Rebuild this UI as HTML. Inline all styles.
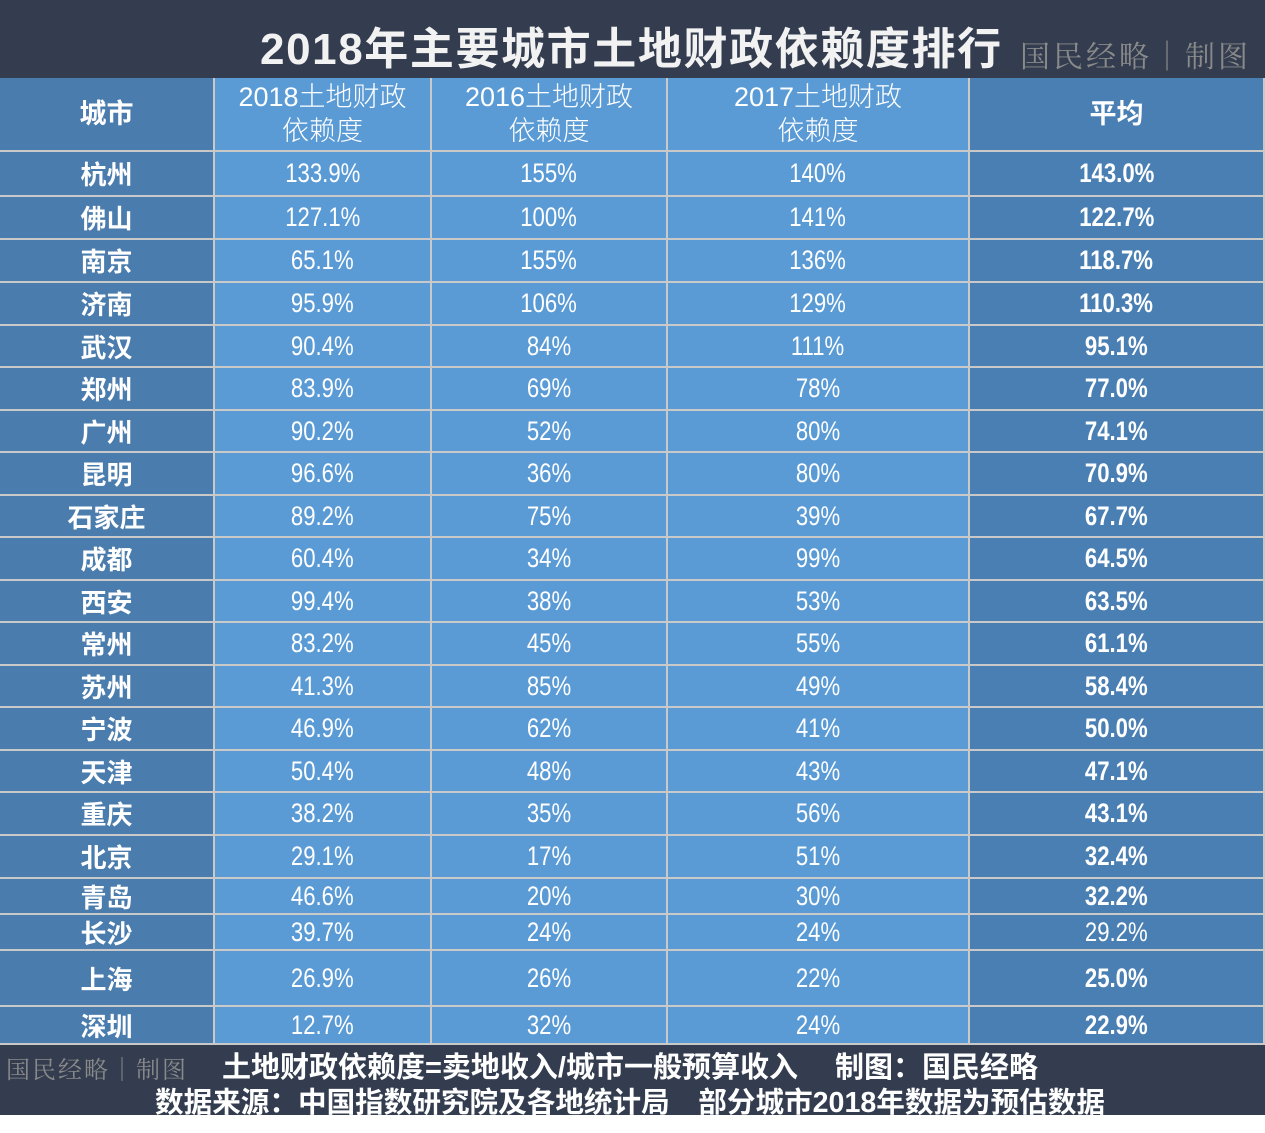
<!DOCTYPE html>
<html><head><meta charset="utf-8">
<style>
body{margin:0;width:1265px;height:1133px;background:#fff;position:relative;overflow:hidden;font-family:"Liberation Sans","Noto Sans CJK SC",sans-serif}
.bar{position:absolute;left:0;width:1265px;background:#333d4f}
.cell{position:absolute;box-sizing:border-box;display:flex;align-items:center;justify-content:center;color:#fff;border-right:2px solid #c9c9c9;border-bottom:2px solid #c9c9c9;font-size:27px}
.cell span{display:inline-block;transform:scaleX(0.82)}
.c0{background:#4a7cae;font-weight:bold;font-size:26px}
.c0 span{transform:none}
.cm{background:#5a9bd6;font-weight:300}
.c4{background:#4a7fb4;font-weight:bold}
.hd{line-height:34px;text-align:center;font-size:27px}
.hd span{transform:none}
</style></head><body>
<div class="bar" style="top:0;height:78px"></div>
<div style="position:absolute;left:260px;top:13px;font-size:44px;color:#f2f2f2;font-weight:bold;letter-spacing:1.6px">2018年主要城市土地财政依赖度排行</div>
<div style="position:absolute;left:1020px;top:32px;font-size:30px;color:#8a8a8a;font-family:'Noto Serif CJK SC',serif;letter-spacing:3px">国民经略｜制图</div>
<div id="tbl"></div>
<div class="bar" style="top:1045px;height:70px"></div>
<div style="position:absolute;left:6px;top:1050px;font-size:24px;color:#8a8a8a;font-family:'Noto Serif CJK SC',serif;letter-spacing:2px">国民经略｜制图</div>
<div style="position:absolute;left:222px;top:1044px;font-size:29px;color:#fff;font-weight:bold">土地财政依赖度=卖地收入/城市一般预算收入　 制图：国民经略</div>
<div style="position:absolute;left:155px;top:1080px;font-size:28.6px;color:#fff;font-weight:bold">数据来源：中国指数研究院及各地统计局　部分城市2018年数据为预估数据</div>
<script>
const cities=["杭州","佛山","南京","济南","武汉","郑州","广州","昆明","石家庄","成都","西安","常州","苏州","宁波","天津","重庆","北京","青岛","长沙","上海","深圳"];
const v2018=["133.9%","127.1%","65.1%","95.9%","90.4%","83.9%","90.2%","96.6%","89.2%","60.4%","99.4%","83.2%","41.3%","46.9%","50.4%","38.2%","29.1%","46.6%","39.7%","26.9%","12.7%"];
const v2016=["155%","100%","155%","106%","84%","69%","52%","36%","75%","34%","38%","45%","85%","62%","48%","35%","17%","20%","24%","26%","32%"];
const v2017=["140%","141%","136%","129%","111%","78%","80%","80%","39%","99%","53%","55%","49%","41%","43%","56%","51%","30%","24%","22%","24%"];
const avg=["143.0%","122.7%","118.7%","110.3%","95.1%","77.0%","74.1%","70.9%","67.7%","64.5%","63.5%","61.1%","58.4%","50.0%","47.1%","43.1%","32.4%","32.2%","29.2%","25.0%","22.9%"];
const headers=["城市","2018土地财政<br>依赖度","2016土地财政<br>依赖度","2017土地财政<br>依赖度","平均"];
const colX=[0,215,432,668,970,1265];
const rowY=[78,152,197,240,283,326,368,411,453,496,538,581,623,666,708,751,793,836,879,915,951,1007,1045];
const tbl=document.getElementById('tbl');
function mk(x0,x1,y0,y1,cls,html){const d=document.createElement('div');d.className='cell '+cls;d.style.left=x0+'px';d.style.top=y0+'px';d.style.width=(x1-x0)+'px';d.style.height=(y1-y0)+'px';d.innerHTML='<span>'+html+'</span>';tbl.appendChild(d);return d;}
headers.forEach((h,i)=>{
  const c=mk(colX[i],colX[i+1],rowY[0],rowY[1],(i==0?'c0':i==4?'c4':'cm')+' hd',h);
  
  
});
cities.forEach((name,r)=>{
  const vals=[name,v2018[r],v2016[r],v2017[r],avg[r]];
  vals.forEach((v,i)=>{
    const c=mk(colX[i],colX[i+1],rowY[r+1],rowY[r+2],i==0?'c0':i==4?'c4':'cm',v);
    if(i==4&&r==18)c.style.fontWeight='300';
    
    
  });
});
</script>
</body></html>
